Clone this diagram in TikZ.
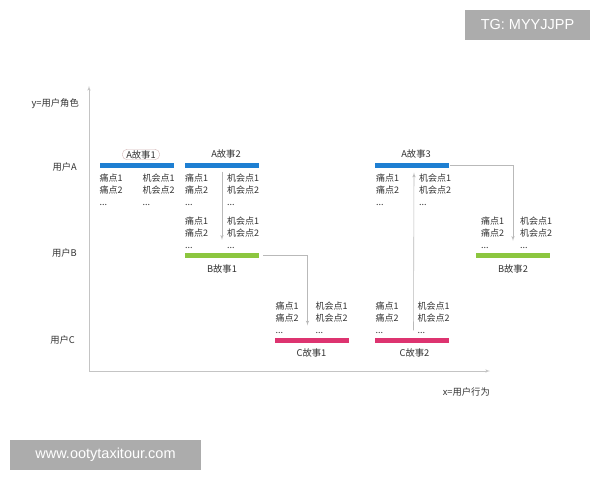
\documentclass[tikz,border=0pt]{standalone}
\usepackage{fontspec}
\setmainfont{Noto Sans CJK SC}
\newfontfamily\wmfont{Liberation Sans}
\usepackage{tikz}
\usetikzlibrary{positioning,arrows}
\definecolor{barA}{HTML}{1E7FD2}
\definecolor{barB}{HTML}{8CC63F}
\definecolor{barC}{HTML}{DD3470}
\definecolor{axisgray}{HTML}{C4C4C4}
\definecolor{txtgray}{HTML}{333333}
\tikzstyle{bar} = [rectangle, minimum width=74pt, minimum height=5pt, inner sep=0pt]
\tikzstyle{pts} = [align=left, inner sep=0pt, text=txtgray, font=\fontsize{9}{12}\selectfont]
\tikzstyle{story} = [inner sep=1pt, text=txtgray, font=\fontsize{9.3}{10}\selectfont]
\tikzstyle{line} = [draw, gray!55, line width=0.6pt, -latex']
\tikzstyle{wm} = [fill=gray!65, text=white, inner sep=0pt, font=\wmfont\fontsize{14.5}{16}\selectfont]
\newcommand{\painlist}{痛点1\\痛点2\\...}
\newcommand{\chancelist}{机会点1\\机会点2\\...}

\begin{document}
\begin{tikzpicture}[x=1pt, y=-1pt]
    \useasboundingbox[fill=white] (0,0) rectangle (600,480);
    % Axes
    \coordinate (origin) at (89,371);
    \coordinate (ytop) at (89,86);
    \coordinate (xend) at (490,371);
    \draw[axisgray, line width=0.6pt, -latex'] (origin) -- (ytop);
    \draw[axisgray, line width=0.6pt, -latex'] (origin) -- (xend);
    \node [story, anchor=east] (ylab) at (80,104) {y=用户角色};
    \node [story, anchor=east] (xlab) at (491,392) {x=用户行为};
    \node [story, anchor=east] (userA) at (78,167) {用户A};
    \node [story, anchor=east] (userB) at (78,253) {用户B};
    \node [story, anchor=east] (userC) at (76,340) {用户C};
    % Bars
    \node [bar, fill=barA] (a1) at (136.5,165) {};
    \node [bar, fill=barA] (a2) at (222,165) {};
    \node [bar, fill=barA] (a3) at (412,165) {};
    \node [bar, fill=barB] (b1) at (222,255.5) {};
    \node [bar, fill=barB] (b2) at (513,255.5) {};
    \node [bar, fill=barC] (c1) at (311.5,340) {};
    \node [bar, fill=barC] (c2) at (411.5,340) {};
    % Story labels
    \node [story, draw=red!25!gray!45, rounded corners=5pt, inner xsep=4pt, inner ysep=1pt] (a1lab) at (141,154.5) {A故事1};
    \node [story, above=3pt of a2, xshift=4pt] (a2lab) {A故事2};
    \node [story, above=3pt of a3, xshift=4pt] (a3lab) {A故事3};
    \node [story, below=5pt of b1] (b1lab) {B故事1};
    \node [story, below=5pt of b2] (b2lab) {B故事2};
    \node [story, below=5pt of c1] (c1lab) {C故事1};
    \node [story, below=5pt of c2, xshift=3pt] (c2lab) {C故事2};
    % Pain points and chances
    \node [pts, below right=6pt and 0pt of a1.south west] (a1pain) {\painlist};
    \node [pts, below right=6pt and 43pt of a1.south west] (a1chance) {\chancelist};
    \node [pts, below right=6pt and 0pt of a2.south west] (a2pain) {\painlist};
    \node [pts, below right=6pt and 42pt of a2.south west] (a2chance) {\chancelist};
    \node [pts, below right=6pt and 1pt of a3.south west] (a3pain) {\painlist};
    \node [pts, below right=6pt and 44pt of a3.south west] (a3chance) {\chancelist};
    \node [pts, above right=4pt and 0pt of b1.north west] (b1pain) {\painlist};
    \node [pts, above right=4pt and 42pt of b1.north west] (b1chance) {\chancelist};
    \node [pts, above right=4pt and 5pt of b2.north west] (b2pain) {\painlist};
    \node [pts, above right=4pt and 44pt of b2.north west] (b2chance) {\chancelist};
    \node [pts, above right=3pt and 1pt of c1.north west] (c1pain) {\painlist};
    \node [pts, above right=3pt and 41pt of c1.north west] (c1chance) {\chancelist};
    \node [pts, above right=3pt and 1pt of c2.north west] (c2pain) {\painlist};
    \node [pts, above right=3pt and 43pt of c2.north west] (c2chance) {\chancelist};
    % Lines
    \path [line, shorten <=4pt, shorten >=13pt] (a2) -- (b1);
    \path [line, shorten <=4pt, shorten >=12pt] (b1.east) -| ([xshift=-4pt]c1.north);
    \path [line, shorten <=7pt, shorten >=5pt] ([xshift=2pt]c2.north) -- ([xshift=2pt]a3.south);
    \path [line, shorten <=1pt, shorten >=12pt] (a3.east) -| (b2.north);
    % Watermarks
    \node [wm, minimum width=125pt, minimum height=30pt] (tg) at (527.5,25) {TG: MYYJJPP};
    \node [wm, minimum width=191pt, minimum height=30pt] (site) at (105.5,455) {www.ootytaxitour.com};
\end{tikzpicture}
\end{document}
